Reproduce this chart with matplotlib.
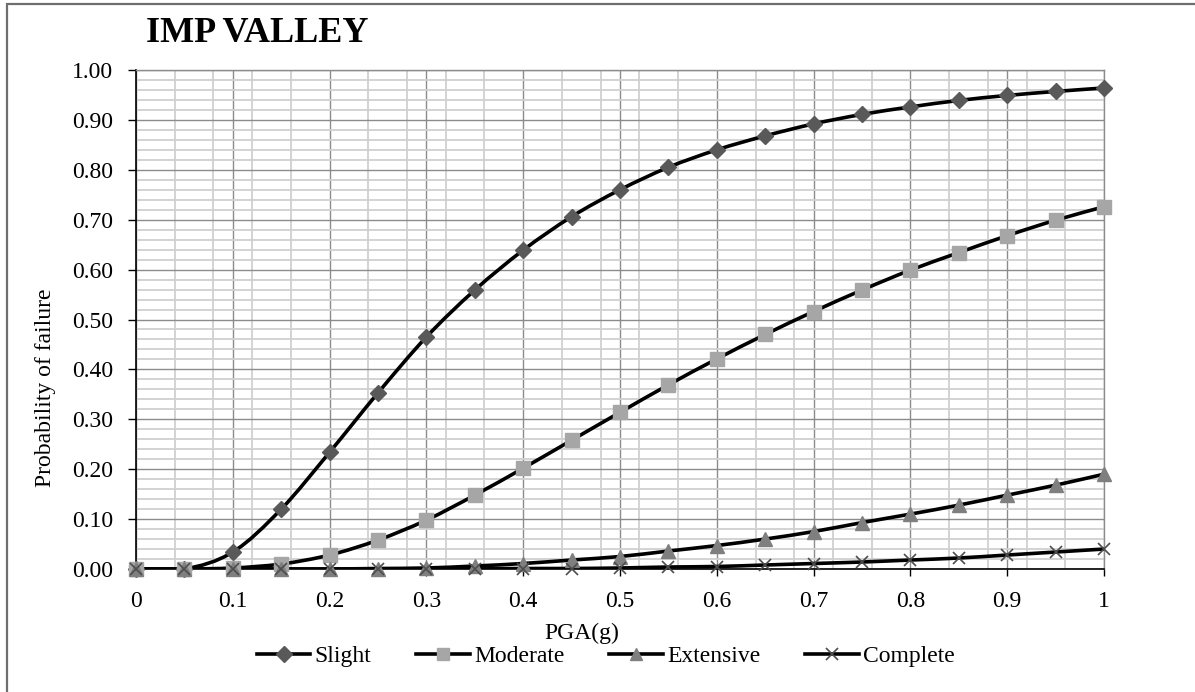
import numpy as np
import matplotlib
matplotlib.use("Agg")
import matplotlib.pyplot as plt
from matplotlib.path import Path
from matplotlib.patches import PathPatch
from matplotlib.lines import Line2D
from matplotlib.ticker import MultipleLocator, FuncFormatter

plt.rcParams['font.family'] = ['Liberation Serif', 'DejaVu Serif']

# Peak ground acceleration (g) and damage-state exceedance probabilities
pga = [0.00, 0.05, 0.10, 0.15, 0.20, 0.25, 0.30, 0.35, 0.40, 0.45, 0.50,
       0.55, 0.60, 0.65, 0.70, 0.75, 0.80, 0.85, 0.90, 0.95, 1.00]

slight = [0.000, 0.000, 0.034, 0.120, 0.234, 0.353, 0.465, 0.559, 0.639, 0.706, 0.760,
          0.805, 0.840, 0.868, 0.892, 0.911, 0.926, 0.939, 0.949, 0.957, 0.964]
moderate = [0.000, 0.000, 0.002, 0.010, 0.028, 0.058, 0.098, 0.148, 0.202, 0.258, 0.314,
            0.369, 0.421, 0.470, 0.516, 0.559, 0.599, 0.634, 0.668, 0.699, 0.726]
extensive = [0.000, 0.000, 0.000, 0.000, 0.000, 0.001, 0.002, 0.006, 0.011, 0.018, 0.025,
             0.036, 0.047, 0.060, 0.075, 0.093, 0.110, 0.128, 0.148, 0.168, 0.190]
complete = [0.000, 0.000, 0.000, 0.000, 0.000, 0.000, 0.000, 0.0005, 0.001, 0.001, 0.002,
            0.004, 0.005, 0.008, 0.011, 0.014, 0.018, 0.022, 0.028, 0.034, 0.040]

series_names = ["Slight", "Moderate", "Extensive", "Complete"]
series_values = [slight, moderate, extensive, complete]
series_markers = ["D", "s", "^", "x"]
series_colors = ["#595959", "#A6A6A6", "#7F7F7F", "#4D4D4D"]
series_msize = [8.5, 9.5, 9.5, 9.0]

x_ticks = [0, 0.1, 0.2, 0.3, 0.4, 0.5, 0.6, 0.7, 0.8, 0.9, 1]
y_ticks = [0.0, 0.1, 0.2, 0.3, 0.4, 0.5, 0.6, 0.7, 0.8, 0.9, 1.0]

FS = 17


def smooth_path(xs, ys):
    """Cubic Bezier path through the points (Catmull-Rom style smoothing)."""
    pts = np.column_stack([xs, ys]).astype(float)
    n = len(pts)
    verts = [pts[0]]
    codes = [Path.MOVETO]
    for i in range(n - 1):
        p0 = pts[i - 1] if i > 0 else pts[i]
        p1 = pts[i]
        p2 = pts[i + 1]
        p3 = pts[i + 2] if i + 2 < n else pts[i + 1]
        c1 = p1 + (p2 - p0) / 6.0
        c2 = p2 - (p3 - p1) / 6.0
        verts += [c1, c2, p2]
        codes += [Path.CURVE4] * 3
    return Path(verts, codes)


fig = plt.figure(figsize=(11.95, 6.92), dpi=100)
ax = fig.add_axes([136 / 1195, 123 / 692, 968 / 1195, 499 / 692])

ax.set_xlim(0, 1)
ax.set_ylim(0, 1)

# grid: major every 0.1, minor every 0.04 (x) and 0.02 (y)
ax.xaxis.set_major_locator(MultipleLocator(0.1))
ax.xaxis.set_minor_locator(MultipleLocator(0.04))
ax.yaxis.set_major_locator(MultipleLocator(0.1))
ax.yaxis.set_minor_locator(MultipleLocator(0.02))
ax.grid(which="minor", color="#D0D0D0", linewidth=1.3, zorder=0)
ax.grid(which="major", color="#8C8C8C", linewidth=1.0, zorder=0.5)
ax.set_axisbelow(True)

ax.set_xticks(x_ticks)
ax.set_yticks(y_ticks)
ax.xaxis.set_major_formatter(FuncFormatter(
    lambda v, p: "0" if abs(v) < 1e-9 else ("1" if abs(v - 1) < 1e-9 else f"{v:.1f}")))
ax.yaxis.set_major_formatter(FuncFormatter(lambda v, p: f"{v:.2f}"))
ax.tick_params(which="minor", length=0)
ax.tick_params(axis="y", which="major", direction="out", length=5.8, width=1.0,
               pad=10.5, labelsize=FS)
ax.tick_params(axis="x", which="major", direction="out", length=5.0, width=1.0,
               pad=10.5, labelsize=FS)

for side in ["top", "right"]:
    ax.spines[side].set_color("#8C8C8C")
    ax.spines[side].set_linewidth(1.0)
for side in ["left", "bottom"]:
    ax.spines[side].set_color("black")
    ax.spines[side].set_linewidth(1.2)

handles = []
for name, vals, mk, col, ms in zip(series_names, series_values, series_markers,
                                   series_colors, series_msize):
    patch = PathPatch(smooth_path(pga, vals), facecolor="none", edgecolor="black",
                      linewidth=2.6, transform=ax.transData, zorder=3)
    ax.add_patch(patch)
    if mk == "x":
        ax.plot(pga, vals, linestyle="none", marker=mk, markersize=ms,
                markeredgecolor=col, markeredgewidth=1.2, zorder=4, clip_on=False)
    else:
        ax.plot(pga, vals, linestyle="none", marker=mk, markersize=ms,
                markerfacecolor=col, markeredgecolor=col, zorder=4, clip_on=False)
    handles.append(Line2D([], [], color="black", linewidth=2.6, marker=mk,
                          markersize=ms * 0.95, markerfacecolor=col,
                          markeredgecolor=col,
                          markeredgewidth=1.2 if mk == "x" else 1.0))

fig.text(257 / 1195, 1 - 33 / 692, "IMP VALLEY", fontsize=26, fontweight="bold",
         ha="center", va="center")
fig.text(46 / 1195, 1 - 388 / 692, "Probability of failure", fontsize=FS,
         rotation=90, ha="center", va="center")
fig.text(582 / 1195, 1 - 633 / 692, "PGA(g)", fontsize=FS, ha="center", va="center")

fig.legend(handles, series_names, loc="center", bbox_to_anchor=(606 / 1195, 1 - 656 / 692),
           ncol=4, frameon=False, fontsize=FS, handlelength=2.25, handletextpad=0.2,
           columnspacing=1.9, borderpad=0.0)

# outer chart frame
frame = plt.Rectangle((7 / 1195, -0.1), 1.2, 1.1 - 4 / 692, transform=fig.transFigure,
                      facecolor="none", edgecolor="#6E6E6E", linewidth=1.6, clip_on=False)
fig.add_artist(frame)

fig.savefig("out.png", dpi=100)
